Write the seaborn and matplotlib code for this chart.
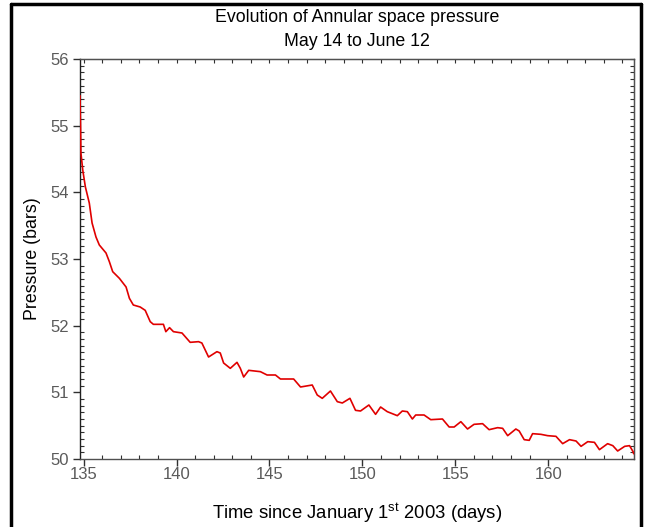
import numpy as np
import pandas as pd
import matplotlib
matplotlib.use("Agg")
import matplotlib.pyplot as plt
from matplotlib.ticker import MultipleLocator, NullFormatter
from matplotlib.lines import Line2D
import seaborn as sns

# Annular space pressure readings (days since 2003-01-01, bars)
days = [134.80, 134.83, 134.85, 134.95, 135.09, 135.30, 135.45, 135.66, 135.84,
        136.20, 136.38, 136.56, 136.92, 137.28, 137.46, 137.67, 138.04, 138.31,
        138.58, 138.75, 139.29, 139.42, 139.62, 139.83, 140.29, 140.73, 141.18,
        141.36, 141.72, 142.17, 142.35, 142.53, 142.89, 143.25, 143.43, 143.61,
        143.88, 144.51, 144.87, 145.32, 145.59, 146.30, 146.67, 147.30, 147.57,
        147.84, 148.28, 148.65, 148.92, 149.33, 149.63, 149.90, 150.35, 150.71,
        150.98, 151.34, 151.88, 152.15, 152.42, 152.69, 152.87, 153.32, 153.68,
        154.31, 154.67, 154.94, 155.30, 155.66, 156.01, 156.47, 156.82, 157.28,
        157.55, 157.82, 158.26, 158.44, 158.71, 158.98, 159.16, 159.61, 159.97,
        160.42, 160.78, 161.15, 161.50, 161.77, 162.13, 162.49, 162.76, 163.20,
        163.48, 163.74, 164.12, 164.38, 164.57, 164.60]
pressure = [55.45, 54.98, 54.59, 54.33, 54.08, 53.84, 53.54, 53.33, 53.21,
            53.09, 52.96, 52.81, 52.71, 52.58, 52.41, 52.31, 52.28, 52.23,
            52.06, 52.02, 52.02, 51.91, 51.97, 51.91, 51.89, 51.75, 51.76,
            51.74, 51.53, 51.61, 51.59, 51.44, 51.36, 51.45, 51.36, 51.23,
            51.33, 51.31, 51.26, 51.26, 51.20, 51.20, 51.08, 51.11, 50.96,
            50.91, 51.02, 50.86, 50.84, 50.91, 50.73, 50.72, 50.81, 50.67,
            50.78, 50.71, 50.65, 50.72, 50.71, 50.60, 50.66, 50.66, 50.59,
            50.60, 50.48, 50.48, 50.56, 50.45, 50.52, 50.53, 50.44, 50.47,
            50.46, 50.35, 50.45, 50.42, 50.29, 50.28, 50.38, 50.37, 50.35,
            50.34, 50.23, 50.29, 50.27, 50.19, 50.26, 50.25, 50.14, 50.23,
            50.20, 50.12, 50.19, 50.20, 50.11, 50.08]

x_ticks = [135, 140, 145, 150, 155, 160]
y_ticks = [50, 51, 52, 53, 54, 55, 56]

sns.set_style("ticks")
plt.rcParams["font.family"] = ["Liberation Sans", "DejaVu Sans"]
plt.rcParams["mathtext.fontset"] = "custom"
plt.rcParams["mathtext.rm"] = "Liberation Sans"

df = pd.DataFrame({"day": days, "pressure": pressure})

W, H = 645, 527
fig = plt.figure(figsize=(W / 100, H / 100), dpi=100)
ax = fig.add_axes([80 / W, 68 / H, 554 / W, 400 / H])

sns.lineplot(data=df, x="day", y="pressure", ax=ax, color="#e00000",
             linewidth=1.2, estimator=None, sort=False, zorder=5)

ax.set_xlim(134.8, 164.62)
ax.set_ylim(50, 56)
ax.set_xticks(x_ticks)
ax.set_yticks(y_ticks)
ax.xaxis.set_minor_locator(MultipleLocator(1))
ax.yaxis.set_minor_locator(MultipleLocator(0.1))

for s in ax.spines.values():
    s.set_visible(True)
    s.set_color("#505050")
    s.set_linewidth(1.0)
ax.spines["left"].set_color("#202020")

ax.tick_params(which="major", direction="out", length=5, width=1,
               color="#303030", labelsize=12, labelcolor="#5a5a5a")
ax.tick_params(axis="x", which="major", pad=1)
ax.tick_params(axis="y", which="major", pad=3)
ax.tick_params(which="minor", direction="in", length=3, width=0.8,
               color="#303030")

# ticks along the top and right edges point into the plot
top = ax.secondary_xaxis("top")
top.set_xticks(x_ticks)
top.xaxis.set_minor_locator(MultipleLocator(1))
top.tick_params(which="both", direction="in", length=3, width=0.8,
                color="#303030", labeltop=False)
top.xaxis.set_major_formatter(NullFormatter())
right = ax.secondary_yaxis("right")
right.set_yticks(y_ticks)
right.yaxis.set_minor_locator(MultipleLocator(0.1))
right.tick_params(which="both", direction="in", length=3, width=0.8,
                  color="#303030", labelright=False)
right.yaxis.set_major_formatter(NullFormatter())

ax.set_xlabel("Time since January 1$^{\\rm st}$ 2003 (days)", fontsize=13.3,
              color="black", labelpad=14)
ax.set_ylabel("Pressure (bars)", fontsize=12.8, color="black", labelpad=7)

# two-line title centred over the plot area
cx = (80 + 634) / 2 / W
fig.text(cx, 1 - 18 / H, "Evolution of Annular space pressure",
         ha="center", va="center", fontsize=12.8, color="black")
fig.text(cx, 1 - 42 / H, "May 14 to June 12",
         ha="center", va="center", fontsize=12.8, color="black")

# frame drawn around the figure
frame_kw = dict(transform=fig.transFigure, color="black", linewidth=2.5)
fig.add_artist(Line2D([11 / W, 11 / W], [0, 1 - 4 / H], **frame_kw))
fig.add_artist(Line2D([11 / W, 641 / W], [1 - 4 / H, 1 - 4 / H], **frame_kw))
fig.add_artist(Line2D([641 / W, 641 / W], [0, 1 - 4 / H], **frame_kw))

fig.savefig("out.png", dpi=100)
